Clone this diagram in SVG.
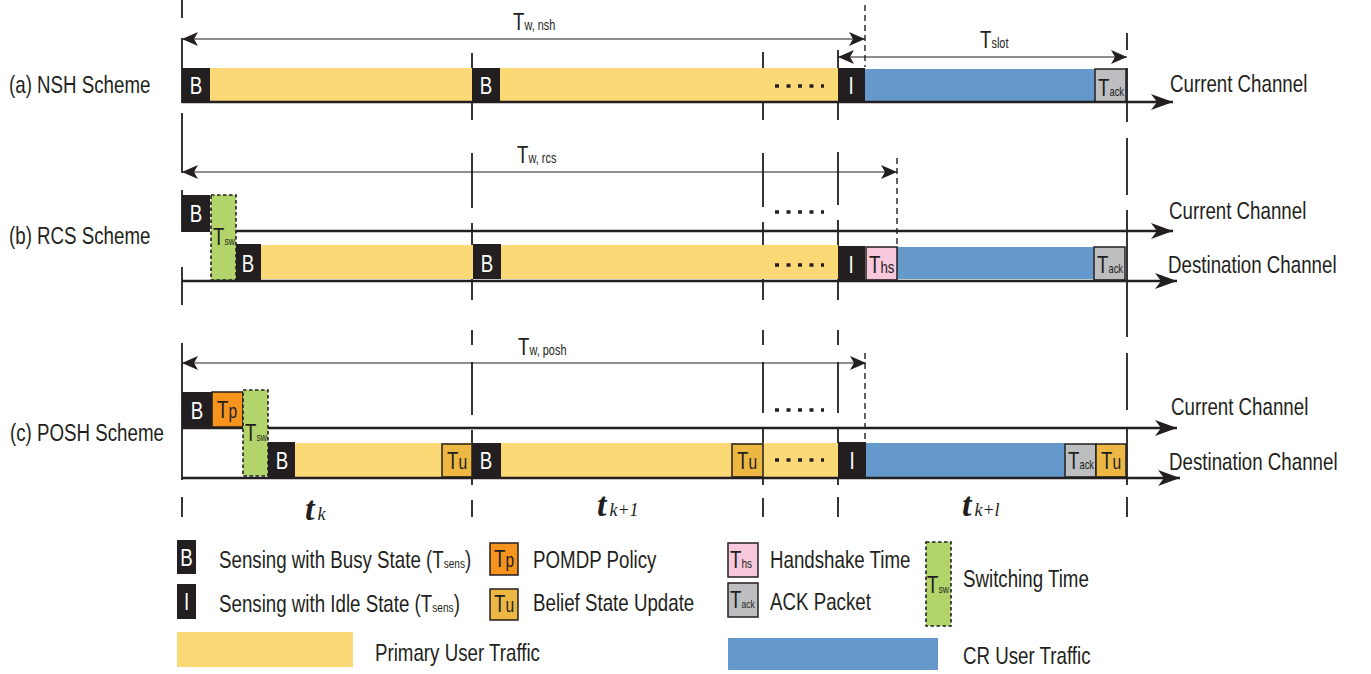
<svg xmlns="http://www.w3.org/2000/svg" width="1371" height="674" viewBox="0 0 1371 674">
<defs>
<style>
.t{font-family:"Liberation Sans",Arial,sans-serif;font-size:24px;fill:#231F20}
.w{fill:#fff}
.s13{font-size:13px}
.s11{font-size:11px}
.s12{font-size:12px}
.s14{font-size:14px}
.s17{font-size:17px}
.s20{font-size:20px}
.ti{font-family:"Liberation Serif","Times New Roman",serif;font-style:italic;fill:#231F20}
.ax{stroke:#231F20;stroke-width:2.6;fill:none}
.dim{stroke:#231F20;stroke-width:1.2;fill:none}
.vl{stroke:#231F20;stroke-width:1.8;fill:none}
.dv{stroke:#231F20;stroke-width:1.4;fill:none;stroke-dasharray:6 4}
.dots{stroke:#231F20;stroke-width:3.5;stroke-dasharray:4 7.5;fill:none}
.blk{fill:#231F20}
.yel{fill:#FCD977}
.blu{fill:#6599CC}
.gry{fill:#BDBEC0;stroke:#231F20;stroke-width:1.5}
.pnk{fill:#F8C8DC;stroke:#231F20;stroke-width:1.5}
.org{fill:#F7941E;stroke:#231F20;stroke-width:1.5}
.tu{fill:#ECB843;stroke:#231F20;stroke-width:1.5}
.grn{fill:#B3D46B;stroke:#231F20;stroke-width:1.6;stroke-dasharray:3.5 2.5}
</style>
<marker id="ah" markerUnits="userSpaceOnUse" markerWidth="24" markerHeight="18" refX="22" refY="8" orient="auto">
<path d="M0,0 L22,8 L0,16 L6,8 z" fill="#231F20"/>
</marker>
<marker id="dh" markerUnits="userSpaceOnUse" markerWidth="18" markerHeight="16" refX="16" refY="7" orient="auto-start-reverse">
<path d="M0,0 L16,7 L0,14 L4,7 z" fill="#231F20"/>
</marker>
</defs>
<rect width="1371" height="674" fill="#fff"/>

<g id="connectors">
<path class="vl" d="M182,0V18 M182,38V103 M182,113V173 M182,190V232 M182,267V305 M182,343V480 M182,497V517"/>
<path class="vl" d="M472,53V120 M472,153V208 M472,223V300 M472,330V345 M472,362V415 M472,430V485 M472,500V517"/>
<path class="vl" d="M763,52V120 M763,153V207 M763,222V300 M763,330V345 M763,362V413 M763,427V485 M763,498V517"/>
<path class="vl" d="M838,50V120 M838,152V205 M838,220V300 M838,330V345 M838,362V413 M838,428V485 M838,497V517"/>
<path class="vl" d="M1127,33V50 M1127,68V122 M1127,138V195 M1127,210V337 M1127,353V410 M1127,427V485 M1127,497V517"/>
<path class="dv" d="M865,5V67"/>
<path class="dv" d="M897,158V247"/>
<path class="dv" d="M865,353V440"/>
<line class="dim" x1="182" y1="39" x2="865" y2="39" marker-start="url(#dh)" marker-end="url(#dh)"/>
<line class="dim" x1="838" y1="57" x2="1127" y2="57" marker-start="url(#dh)" marker-end="url(#dh)"/>
<line class="dim" x1="182" y1="172" x2="897" y2="172" marker-start="url(#dh)" marker-end="url(#dh)"/>
<line class="dim" x1="182" y1="363" x2="866" y2="363" marker-start="url(#dh)" marker-end="url(#dh)"/>
</g>

<g id="row-a">
<rect class="yel" x="210" y="68" width="628" height="33"/>
<rect class="blu" x="865" y="69" width="230" height="32"/>
<rect class="blk" x="182" y="68" width="28" height="35"/>
<rect class="blk" x="472" y="68" width="28" height="35"/>
<rect class="blk" x="838" y="68" width="27" height="35"/>
<rect class="gry" x="1095" y="69" width="31" height="33"/>
<line class="dots" x1="775" y1="86" x2="824" y2="86"/>
<line class="ax" x1="182" y1="102" x2="1173" y2="102" marker-end="url(#ah)"/>
<text class="t w" text-anchor="middle" transform="translate(196,94) scale(0.78,1)">B</text>
<text class="t w" text-anchor="middle" transform="translate(486,94) scale(0.78,1)">B</text>
<text class="t w" text-anchor="middle" transform="translate(851,94) scale(0.78,1)">I</text>
<text class="t" transform="translate(1098,96) scale(0.78,1)">T<tspan class="s12">ack</tspan></text>
<text class="t" transform="translate(9,93) scale(0.78,1)">(a) NSH Scheme</text>
<text class="t" transform="translate(1170,92) scale(0.78,1)">Current Channel</text>
<text class="t" transform="translate(513,30) scale(0.78,1)">T<tspan class="s14">w, nsh</tspan></text>
<text class="t" transform="translate(980,48) scale(0.78,1)">T<tspan class="s14">slot</tspan></text>
</g>

<g id="row-b">
<rect class="yel" x="260" y="245" width="578" height="34"/>
<rect class="blu" x="897" y="247" width="198" height="32"/>
<rect class="blk" x="182" y="195" width="28" height="37"/>
<rect class="grn" x="211" y="195" width="25" height="85"/>
<rect class="blk" x="236" y="244" width="25" height="37"/>
<rect class="blk" x="473" y="244" width="28" height="35"/>
<rect class="blk" x="838" y="246" width="27" height="35"/>
<rect class="pnk" x="866" y="247" width="31" height="33"/>
<rect class="gry" x="1094" y="247" width="31" height="33"/>
<line class="dots" x1="775" y1="212" x2="824" y2="212"/>
<line class="dots" x1="775" y1="265" x2="824" y2="265"/>
<line class="ax" x1="236" y1="231" x2="1173" y2="231" marker-end="url(#ah)"/>
<line class="ax" x1="182" y1="281" x2="1177" y2="281" marker-end="url(#ah)"/>
<text class="t w" text-anchor="middle" transform="translate(196,222) scale(0.78,1)">B</text>
<text class="t w" text-anchor="middle" transform="translate(248,272) scale(0.78,1)">B</text>
<text class="t w" text-anchor="middle" transform="translate(487,272) scale(0.78,1)">B</text>
<text class="t w" text-anchor="middle" transform="translate(851,273) scale(0.78,1)">I</text>
<text class="t" transform="translate(213,245) scale(0.78,1)">T<tspan class="s11">sw</tspan></text>
<text class="t" transform="translate(869,273) scale(0.78,1)">T<tspan class="s17">hs</tspan></text>
<text class="t" transform="translate(1097,273) scale(0.78,1)">T<tspan class="s12">ack</tspan></text>
<text class="t" transform="translate(9,244) scale(0.78,1)">(b) RCS Scheme</text>
<text class="t" transform="translate(1169,219) scale(0.78,1)">Current Channel</text>
<text class="t" transform="translate(1168,273) scale(0.78,1)">Destination Channel</text>
<text class="t" transform="translate(517,163) scale(0.78,1)">T<tspan class="s14">w, rcs</tspan></text>
</g>

<g id="row-c">
<rect class="yel" x="295" y="443" width="543" height="34"/>
<rect class="blu" x="866" y="443" width="199" height="34"/>
<line class="ax" x1="182" y1="428" x2="1177" y2="428" marker-end="url(#ah)"/>
<rect class="blk" x="182" y="392" width="30" height="36"/>
<rect class="org" x="212" y="392" width="31" height="35"/>
<rect class="grn" x="243" y="390" width="25" height="86"/>
<rect class="blk" x="268" y="442" width="27" height="36"/>
<rect class="tu" x="442" y="444" width="30" height="33"/>
<rect class="blk" x="472" y="443" width="29" height="35"/>
<rect class="tu" x="732" y="444" width="31" height="33"/>
<rect class="blk" x="838" y="442" width="28" height="36"/>
<rect class="gry" x="1065" y="444" width="31" height="33"/>
<rect class="tu" x="1096" y="444" width="30" height="33"/>
<line class="dots" x1="775" y1="410" x2="824" y2="410"/>
<line class="dots" x1="775" y1="460" x2="824" y2="460"/>
<line class="ax" x1="182" y1="478" x2="1180" y2="478" marker-end="url(#ah)"/>
<text class="t w" text-anchor="middle" transform="translate(197,419) scale(0.78,1)">B</text>
<text class="t" text-anchor="middle" transform="translate(227,418) scale(0.78,1)">T<tspan class="s20">p</tspan></text>
<text class="t" transform="translate(245,441) scale(0.78,1)">T<tspan class="s11">sw</tspan></text>
<text class="t w" text-anchor="middle" transform="translate(282,469) scale(0.78,1)">B</text>
<text class="t" text-anchor="middle" transform="translate(457,469) scale(0.78,1)">T<tspan class="s20">u</tspan></text>
<text class="t w" text-anchor="middle" transform="translate(486,469) scale(0.78,1)">B</text>
<text class="t" text-anchor="middle" transform="translate(747,469) scale(0.78,1)">T<tspan class="s20">u</tspan></text>
<text class="t w" text-anchor="middle" transform="translate(852,469) scale(0.78,1)">I</text>
<text class="t" transform="translate(1068,469) scale(0.78,1)">T<tspan class="s12">ack</tspan></text>
<text class="t" text-anchor="middle" transform="translate(1111,469) scale(0.78,1)">T<tspan class="s20">u</tspan></text>
<text class="t" transform="translate(10,441) scale(0.78,1)">(c) POSH Scheme</text>
<text class="t" transform="translate(1171,415) scale(0.78,1)">Current Channel</text>
<text class="t" transform="translate(1169,470) scale(0.78,1)">Destination Channel</text>
<text class="t" transform="translate(518,355) scale(0.78,1)">T<tspan class="s14">w, posh</tspan></text>
</g>

<g id="slot-labels">
<text class="ti" x="305" y="520" font-size="34" font-weight="bold">t<tspan font-size="18" font-weight="normal" dx="3">k</tspan></text>
<text class="ti" x="597" y="516" font-size="34" font-weight="bold">t<tspan font-size="18" font-weight="normal" dx="3">k+1</tspan></text>
<text class="ti" x="962" y="516" font-size="34" font-weight="bold">t<tspan font-size="18" font-weight="normal" dx="3">k+l</tspan></text>
</g>

<g id="legend">
<rect class="blk" x="177" y="540" width="19" height="34"/>
<text class="t w" text-anchor="middle" transform="translate(186.5,566) scale(0.78,1)">B</text>
<text class="t" transform="translate(219,568) scale(0.78,1)">Sensing with Busy State (T<tspan class="s13">sens</tspan>)</text>
<rect class="blk" x="177" y="584" width="19" height="35"/>
<text class="t w" text-anchor="middle" transform="translate(186.5,610) scale(0.78,1)">I</text>
<text class="t" transform="translate(219,612) scale(0.78,1)">Sensing with Idle State (T<tspan class="s13">sens</tspan>)</text>
<rect class="org" x="490" y="543" width="28" height="32"/>
<text class="t" text-anchor="middle" transform="translate(504,567) scale(0.78,1)">T<tspan class="s20">p</tspan></text>
<text class="t" transform="translate(533,568) scale(0.78,1)">POMDP Policy</text>
<rect class="tu" x="490" y="589" width="28" height="31"/>
<text class="t" text-anchor="middle" transform="translate(504,612) scale(0.78,1)">T<tspan class="s20">u</tspan></text>
<text class="t" transform="translate(533,611) scale(0.78,1)">Belief State Update</text>
<rect class="yel" x="177" y="632" width="176" height="35"/>
<text class="t" transform="translate(375,661) scale(0.78,1)">Primary User Traffic</text>
<rect class="pnk" x="728" y="543" width="30" height="34"/>
<text class="t" transform="translate(730,568) scale(0.78,1)">T<tspan class="s13">hs</tspan></text>
<text class="t" transform="translate(770,568) scale(0.78,1)">Handshake Time</text>
<rect class="gry" x="728" y="583" width="30" height="34"/>
<text class="t" transform="translate(730,608) scale(0.78,1)">T<tspan class="s11">ack</tspan></text>
<text class="t" transform="translate(770,610) scale(0.78,1)">ACK Packet</text>
<rect class="grn" x="926" y="542" width="25" height="84"/>
<text class="t" transform="translate(927,593) scale(0.78,1)">T<tspan class="s11">sw</tspan></text>
<text class="t" transform="translate(963,587) scale(0.78,1)">Switching Time</text>
<rect class="blu" x="728" y="638" width="210" height="32"/>
<text class="t" transform="translate(963,664) scale(0.78,1)">CR User Traffic</text>
</g>
</svg>
